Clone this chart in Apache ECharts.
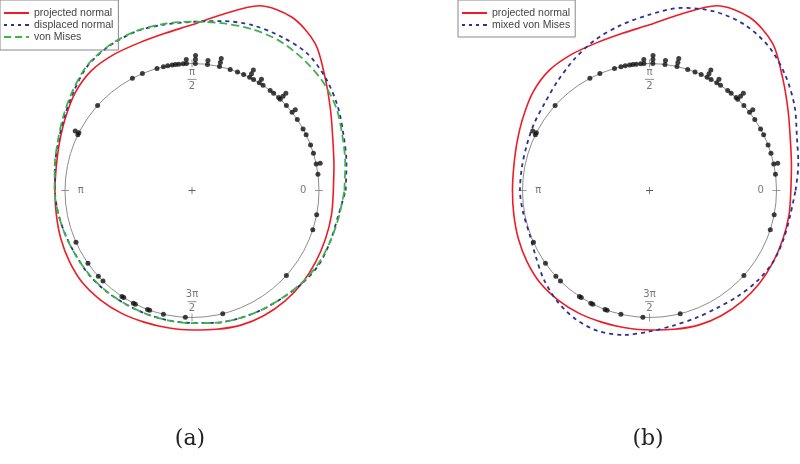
<!DOCTYPE html>
<html><head><meta charset="utf-8">
<script src="https://cdn.jsdelivr.net/npm/echarts@6/dist/echarts.min.js"></script>
<style>html,body{margin:0;padding:0;background:#fff}#c{width:800px;height:464px}</style>
</head><body><div id="c"></div>
<script>
// angles (degrees) at which the density curves were read
const thetaDeg = [0,10,20,30,40,50,60,70,80,90,100,110,120,130,140,150,160,170,180,190,200,210,220,230,240,250,260,270,280,290,300,310,320,330,340,350];
// radial values (unit circle = 1)
const projectedNormal = [1.113,1.135,1.18,1.26,1.37,1.51,1.575,1.548,1.41,1.305,1.255,1.235,1.235,1.232,1.20,1.15,1.11,1.085,1.079,1.085,1.10,1.115,1.127,1.123,1.115,1.103,1.098,1.099,1.11,1.128,1.136,1.137,1.133,1.125,1.118,1.115];
const displacedNormal = [1.21,1.235,1.27,1.325,1.375,1.41,1.40,1.385,1.355,1.328,1.325,1.327,1.31,1.28,1.215,1.16,1.12,1.095,1.079,1.068,1.055,1.047,1.048,1.042,1.036,1.037,1.040,1.043,1.058,1.072,1.088,1.105,1.135,1.158,1.160,1.168];
const vonMises = [1.20,1.225,1.26,1.31,1.34,1.355,1.365,1.355,1.338,1.33,1.33,1.33,1.315,1.285,1.225,1.17,1.125,1.098,1.082,1.068,1.057,1.047,1.045,1.040,1.036,1.037,1.040,1.045,1.058,1.072,1.088,1.105,1.13,1.15,1.16,1.175];
const mixedVonMises = [1.15,1.19,1.235,1.32,1.40,1.47,1.505,1.50,1.46,1.385,1.32,1.26,1.19,1.125,1.075,1.05,1.03,1.021,1.02,1.01,1.005,1.035,1.087,1.135,1.168,1.178,1.155,1.11,1.08,1.068,1.067,1.085,1.108,1.124,1.123,1.125];
// observed directions (degrees); repeated values are stacked outward
const obsDeg = [7.4,12,12,17,21,26,29,34,38,38,42,46,46,46,47,50,52,56,58,58,61,63,63,63,66,69,72.5,77.5,77.5,77.5,83,83,88.5,88.5,88.5,92.5,92.5,94,96,97.5,99,101,103,106,113,118,138,153,153,154,204,215,222.5,225.5,236.5,237.5,242.5,243.5,249.5,250.5,257,267,284,318,342,349];
const tickAngles = [0,90,180,270];
const tickLabels = ['0','π/2','π','3π/2'];

const RED='#ee1c25', NAVY='#2e3192', GREEN='#3cb44b';
const R_MAX = 2, UNIT_PX = 127;
function closed(vals){const d=thetaDeg.map((t,i)=>[vals[i],t]);d.push([vals[0],360]);return d;}
function dots(){const cnt={};return obsDeg.map(a=>{const k=cnt[a]||0;cnt[a]=k+1;return [1+k*0.032,a];});}
function labelText(s){
  if(s.indexOf('/')<0) return '{s|'+s+'}';
  const p=s.split('/');return '{s|'+p[0]+'}\n{bar| }\n{s|'+p[1]+'}';
}
const tickLabelData = tickAngles.map(a=>[0.875,a]);
const tickMarkData = tickAngles.map(a=>[1,a]);

const chart = echarts.init(document.getElementById('c'),null,{renderer:'canvas'});
const centers=[[192,190.5],[649.5,190.5]];
const polar = centers.map(c=>({center:c,radius:UNIT_PX*R_MAX}));
const angleAxis = centers.map((c,i)=>({polarIndex:i,type:'value',min:0,max:360,interval:90,startAngle:0,clockwise:false,
  axisLine:{show:false},axisTick:{show:false},axisLabel:{show:false},splitLine:{show:false}}));
const radiusAxis = centers.map((c,i)=>({polarIndex:i,type:'value',min:0,max:R_MAX,interval:1,axisLine:{show:false},axisTick:{show:false},axisLabel:{show:false},
  splitLine:{show:true,lineStyle:{color:['rgba(0,0,0,0)','#808080','rgba(0,0,0,0)'],width:0.9}}}));

function curve(name,vals,pi,color,type,width){
  return {name:name,type:'line',coordinateSystem:'polar',polarIndex:pi,data:closed(vals),smooth:0.3,symbol:'none',clip:false,
    lineStyle:{color:color,width:width,type:type},itemStyle:{color:color},z:3,animation:false};
}
const series=[];
[0,1].forEach(pi=>{
  series.push({name:'obs'+pi,type:'scatter',coordinateSystem:'polar',polarIndex:pi,data:dots(),symbol:'circle',symbolSize:5,itemStyle:{color:'#111'},z:4,animation:false});
  series.push({name:'center'+pi,type:'scatter',coordinateSystem:'polar',polarIndex:pi,data:[[0,0]],symbol:'path://M4,0h1v4h4v1h-4v4h-1v-4h-4v-1h4z',symbolSize:7,itemStyle:{color:'#333'},z:4,animation:false});
  series.push({name:'tickmarks'+pi,type:'scatter',coordinateSystem:'polar',polarIndex:pi,data:tickMarkData,symbol:'rect',
    symbolSize:(v,p)=>(tickAngles[p.dataIndex]%180===0?[8,1]:[1,8]),itemStyle:{color:'#808080'},z:2,animation:false});
  series.push({name:'ticks'+pi,type:'scatter',coordinateSystem:'polar',polarIndex:pi,data:tickLabelData,symbolSize:0,animation:false,
    label:{show:true,position:'inside',formatter:p=>labelText(tickLabels[p.dataIndex]),color:'#555',fontSize:10,fontFamily:'DejaVu Sans',align:'center',verticalAlign:'middle',
      rich:{s:{fontSize:10,color:'#555',fontFamily:'DejaVu Sans',lineHeight:11,align:'center'},bar:{width:9,height:1,lineHeight:3,backgroundColor:'#777',fontSize:1,align:'center'}}}});
});
series.push(curve('projected normal',projectedNormal,0,RED,'solid',1.6));
series.push(curve('displaced normal',displacedNormal,0,NAVY,[4,4],1.8));
series.push(curve('von Mises',vonMises,0,GREEN,[8,4],1.8));
series.push(curve('projected normal',projectedNormal,1,RED,'solid',1.6));
series.push(curve('mixed von Mises',mixedVonMises,1,NAVY,[4,4],1.8));

const ICON_SOLID='path://M0,0H25V2H0Z';
const ICON_SHORT='path://M0,0h3v2h-3z M7,0h3v2h-3z M14,0h3v2h-3z M21,0h4v2h-4z';
const ICON_LONG='path://M0,0h7v2h-7z M11,0h7v2h-7z M22,0h3v2h-3z';
const legBase={orient:'vertical',itemWidth:25,itemHeight:2,itemGap:0,borderColor:'#888',borderWidth:1,borderRadius:0,
  textStyle:{fontSize:10.5,lineHeight:12,color:'#444',fontFamily:'Liberation Sans'},selectedMode:false};
chart.setOption({
  animation:false,
  polar:polar, angleAxis:angleAxis, radiusAxis:radiusAxis,
  legend:[Object.assign({},legBase,{left:0,top:0,padding:[7,5,7,4],
            data:[{name:'projected normal',icon:ICON_SOLID},{name:'displaced normal',icon:ICON_SHORT},{name:'von Mises',icon:ICON_LONG}]}),
          Object.assign({},legBase,{left:458,top:0,padding:[7,5,6,4],
            data:[{name:'projected normal',icon:ICON_SOLID},{name:'mixed von Mises',icon:ICON_SHORT}]})],
  graphic:[{type:'text',style:{text:'(a)',x:190,y:439,textAlign:'center',textVerticalAlign:'middle',font:'22px "DejaVu Serif"',fill:'#222'}},
           {type:'text',style:{text:'(b)',x:648,y:439,textAlign:'center',textVerticalAlign:'middle',font:'22px "DejaVu Serif"',fill:'#222'}}],
  series:series
});
</script></body></html>
